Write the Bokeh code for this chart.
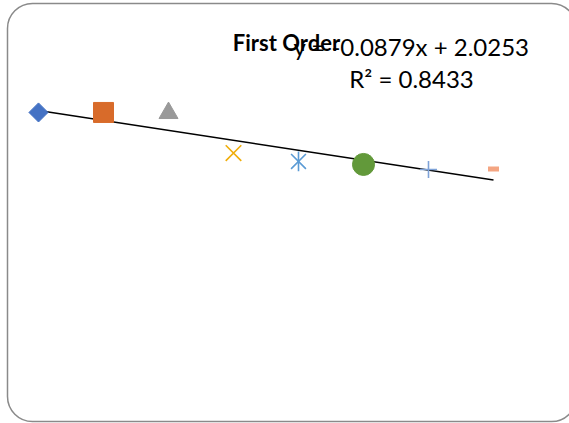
from bokeh.plotting import figure
from bokeh.models import Range1d, Label, BoxAnnotation
from bokeh.embed import file_html
from bokeh.resources import INLINE

# Series values: run index and measured value
x_vals = [1, 2, 3, 4, 5, 6, 7, 8]
y_vals = [1.92, 1.92, 1.915, 1.561, 1.487, 1.46, 1.415, 1.42]

# Linear trendline coefficients as reported on the chart
slope = -0.0879
intercept = 2.0253
r_squared = 0.8433

title_text = "First Order"

# Per-point marker styling (marker, color, size, line width, angle)
point_styles = [
    dict(marker="square", color="#4472C4", size=13.5, lw=1, angle=0.785398),
    dict(marker="square", color="#D86B2A", size=20, lw=1, angle=0.0),
    dict(marker="triangle", color="#999999", size=19, lw=1, angle=0.0),
    dict(marker="x", color="#F0AE0C", size=22, lw=1.6, angle=0.0),
    dict(marker="x", color="#5B9BD5", size=21, lw=1.6, angle=0.0),
    dict(marker="circle", color="#62993A", size=22, lw=1, angle=0.0),
    dict(marker="cross", color="#7EA2D8", size=17, lw=1.6, angle=0.0),
    dict(marker="dash", color="#F4A582", size=11, lw=5, angle=0.0),
]

W, H = 569, 423
PX_X = 65.0   # pixels per x unit
PX_Y = 113.0  # pixels per y unit
x_start = 1 - 38 / PX_X
y_top = (slope * 1 + intercept) + 110 / PX_Y


def sx(px):
    return x_start + px / PX_X


def sy(py):
    return y_top - py / PX_Y


p = figure(
    width=W, height=H,
    x_range=Range1d(x_start, x_start + W / PX_X),
    y_range=Range1d(y_top - H / PX_Y, y_top),
    x_axis_type=None, y_axis_type=None,
    min_border=0, toolbar_location=None, output_backend="svg",
)
p.grid.visible = False
p.outline_line_color = None
p.background_fill_color = "white"
p.border_fill_color = "white"

# rounded chart-area border
p.add_layout(BoxAnnotation(
    left=sx(7), right=sx(576), top=sy(3), bottom=sy(421),
    fill_alpha=0, line_color="#8a8a8a", line_alpha=1.0, line_width=1.5,
    border_radius=25, level="underlay",
))

# trendline
tx = [x_vals[0], x_vals[-1]]
ty = [slope * v + intercept for v in tx]
p.line(tx, ty, line_color="black", line_width=1.4)

# markers, one series per point
for xv, yv, st in zip(x_vals, y_vals, point_styles):
    if st["marker"] in ("x", "cross", "dash"):
        p.scatter([xv], [yv], marker=st["marker"], size=st["size"],
                  line_color=st["color"], line_width=st["lw"], angle=st["angle"])
    else:
        p.scatter([xv], [yv], marker=st["marker"], size=st["size"],
                  fill_color=st["color"], line_color=st["color"],
                  line_width=st["lw"], angle=st["angle"])
    if st["color"] == "#5B9BD5":
        # star marker: add the vertical stroke
        p.scatter([xv], [yv], marker="dash", size=st["size"] * 0.95, angle=1.5708,
                  line_color=st["color"], line_width=st["lw"])

eq_text = "y = %.4fx + %.4f" % (slope, intercept)
p.add_layout(Label(x=sx(411), y=sy(46), text=eq_text, text_align="center",
                   text_baseline="middle", text_font="Lato", text_font_size="24px",
                   text_color="black"))
p.add_layout(Label(x=sx(411), y=sy(78), text="R² = %.4f" % r_squared,
                   text_align="center", text_baseline="middle", text_font="Lato",
                   text_font_size="24px", text_color="black"))
p.add_layout(Label(x=sx(286), y=sy(42), text=title_text, text_align="center",
                   text_baseline="middle", text_font="Lato", text_font_style="bold",
                   text_font_size="22px", text_color="black"))

open("out.html", "w").write(file_html(p, INLINE))
